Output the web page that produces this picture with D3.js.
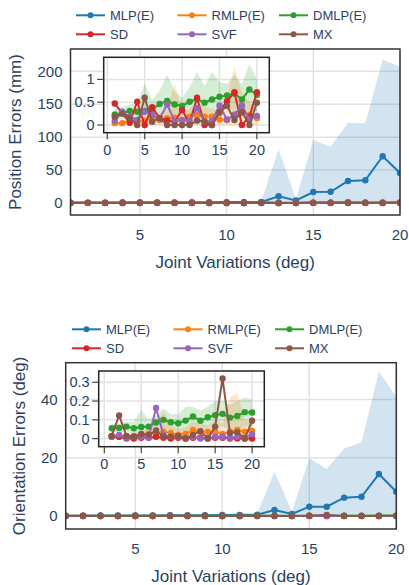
<!DOCTYPE html>
<html><head><meta charset="utf-8">
<script src="https://cdn.jsdelivr.net/npm/d3@7"></script>
<style>body{margin:0;background:#fff}svg{display:block}text{font-family:"Liberation Sans",Arial,sans-serif;fill:#2a3f5f}</style>
</head><body>
<script>
const xs = d3.range(1, 21);
const seriesNames = ["MLP(E)", "RMLP(E)", "DMLP(E)", "SD", "SVF", "MX"];
const colors = ["#1f77b4", "#ff7f0e", "#2ca02c", "#d62728", "#9467bd", "#8c564b"];

// Position errors (mm)
const posMLP   = [0.4,0.5,0.6,0.7,0.8,0.9,1.0,1.1,1.2,1.4,1.5,1.7,10.2,4,16.7,17,33.4,34.5,71,45.6];
const posMLPUp = [0.6,0.7,0.9,1.0,1.2,1.3,1.5,1.6,1.8,2.0,2.2,3,81.6,6,95.7,85.6,122,121,218,207];
const posRMLP  = [0.04,0.04,0.09,0.07,0.09,0.15,0.11,0.15,0.16,0.11,0.18,0.22,0.18,0.18,0.12,0.11,0.23,0.26,0.22,0.15];
const posRMLPUp= [0.08,0.08,0.18,0.15,0.2,0.3,0.25,0.35,0.9,0.3,0.35,0.5,0.4,0.35,0.3,0.6,1.28,0.7,0.5,0.35];
const posRMLPLo= [0,0,0,0,0,0,0,0,0,0,0.01,0,0,0.01,0,0,0,0,0,0];
const posDMLP  = [0.23,0.26,0.31,0.29,0.31,0.34,0.46,0.53,0.45,0.42,0.51,0.57,0.49,0.56,0.62,0.65,0.69,0.56,0.78,0.66];
const posDMLPUp= [0.35,0.40,0.45,0.50,0.90,0.55,0.75,1.10,0.75,0.60,0.83,1.16,0.85,1.16,0.95,0.90,1.10,0.90,1.34,1.00];
const posDMLPLo= [0.11,0.12,0.17,0.08,0.0,0.13,0.17,0.0,0.15,0.24,0.19,0.0,0.13,0.0,0.29,0.40,0.28,0.22,0.22,0.32];
const posSD    = [0.47,0.26,0.05,0.51,0,0.39,0.15,0.1,0.07,0.33,0.04,0.6,0,0,0.3,0.52,0.72,0,0.18,0.72];
const posSVF   = [0.09,0.29,0.18,0.11,0.29,0.22,0.15,0.45,0.09,0.11,0.09,0.37,0.07,0.09,0.43,0.12,0.22,0.43,0.12,0.2];
const posMX    = [0.18,0.25,0.15,0,0.6,0.07,0.15,0,0,0,0,0.1,0.07,0,0.27,0.42,0.11,0.29,0,0.49];

// Orientation errors (deg)
const oriMLP   = [0.1,0.1,0.15,0.15,0.2,0.2,0.25,0.25,0.3,0.35,0.4,0.45,2.06,0.7,3.2,3.2,6.3,6.6,14.4,8.3];
const oriMLPUp = [0.15,0.15,0.2,0.2,0.3,0.3,0.35,0.35,0.4,0.5,0.55,0.8,15.2,1.5,19.8,16.1,23.2,25.3,49.5,40.9];
const oriRMLP  = [0.014,0.01,0.014,0.014,0.018,0.025,0.03,0.037,0.03,0.02,0.025,0.046,0.037,0.037,0.037,0.025,0.037,0.046,0.037,0.041];
const oriRMLPUp= [0.02,0.02,0.025,0.03,0.04,0.06,0.08,0.145,0.07,0.05,0.06,0.09,0.08,0.07,0.1,0.08,0.22,0.24,0.1,0.08];
const oriRMLPLo= [0,0,0,0,0,0,0,0,0,0,0,0,0,0,0,0,0,0,0,0];
const oriDMLP  = [0.055,0.057,0.064,0.055,0.062,0.064,0.086,0.1,0.087,0.082,0.096,0.118,0.095,0.114,0.125,0.132,0.112,0.121,0.141,0.139];
const oriDMLPUp= [0.075,0.08,0.09,0.09,0.155,0.1,0.12,0.16,0.13,0.13,0.17,0.17,0.15,0.17,0.2,0.2,0.18,0.2,0.22,0.21];
const oriDMLPLo= [0.035,0.034,0.038,0.02,0,0.028,0.05,0.04,0.044,0.034,0.022,0.066,0.04,0.058,0.05,0.064,0.044,0.042,0.062,0.068];
const oriSD    = [0.01,0.01,0,0,0.005,0.005,0.01,0.005,0,0.005,0,0.005,0.005,0,0.005,0.005,0,0,0,0];
const oriSVF   = [0.01,0.02,0.005,0.01,0.01,0.005,0.163,0.02,0.01,0.01,0.005,0.01,0,0.005,0.01,0.01,0.005,0.01,0.005,0.025];
const oriMX    = [0.014,0.123,0.014,0.01,0.025,0.02,0.043,0.01,0.01,0.014,0,0.02,0.04,0,0.064,0.32,0.03,0.034,0,0.095];

const mainXTicks = [5, 10, 15, 20];
const posYTicks = [0, 50, 100, 150, 200];
const oriYTicks = [0, 20, 40];
const insetXTicks = [0, 5, 10, 15, 20];
const posInsetYTicks = [0, 0.5, 1];
const oriInsetYTicks = [0, 0.1, 0.2, 0.3];

const W = 409, H = 585;
const svg = d3.select("body").append("svg").attr("width", W).attr("height", H);

function panel(cfg, id) {
  const g = svg.append("g");
  // legend
  seriesNames.forEach((n, i) => {
    const col = i % 3, row = Math.floor(i / 3);
    const lx = cfg.legX + col * 101.5, ly = cfg.legY + row * 19;
    g.append("line").attr("x1", lx).attr("x2", lx + 29).attr("y1", ly).attr("y2", ly)
      .attr("stroke", colors[i]).attr("stroke-width", 2);
    g.append("circle").attr("cx", lx + 14.5).attr("cy", ly).attr("r", 3).attr("fill", colors[i]);
    g.append("text").attr("x", lx + 34).attr("y", ly).attr("dy", "0.35em")
      .attr("font-size", 13).text(n);
  });

  const m = cfg.main;
  const x = d3.scaleLinear().domain([1, 20]).range([m.l, m.r]);
  const y = d3.scaleLinear().domain(m.yd).range([m.b, m.t]);
  // grid
  g.append("g").selectAll("line").data(mainXTicks).join("line")
    .attr("x1", d => x(d)).attr("x2", d => x(d)).attr("y1", m.t).attr("y2", m.b)
    .attr("stroke", "#e2e2e2").attr("stroke-width", 1.5);
  g.append("g").selectAll("line").data(cfg.yTicks).join("line")
    .attr("x1", m.l).attr("x2", m.r).attr("y1", d => y(d)).attr("y2", d => y(d))
    .attr("stroke", "#e2e2e2").attr("stroke-width", 1.5);
  // tick labels
  g.append("g").selectAll("text").data(mainXTicks).join("text")
    .attr("x", d => x(d)).attr("y", m.b + 20).attr("dy", "0.35em").attr("text-anchor", "middle")
    .attr("font-size", 15).text(d => d);
  g.append("g").selectAll("text").data(cfg.yTicks).join("text")
    .attr("x", m.l - 8).attr("y", d => y(d)).attr("dy", "0.35em").attr("text-anchor", "end")
    .attr("font-size", 15).text(d => d);
  // titles
  g.append("text").attr("x", (m.l + m.r) / 2).attr("y", cfg.xTitleY).attr("dy", "0.35em")
    .attr("text-anchor", "middle").attr("font-size", 17).text("Joint Variations (deg)");
  g.append("text").attr("transform", `translate(${cfg.yTitleX},${(m.t + m.b) / 2}) rotate(-90)`)
    .attr("dy", "0.35em").attr("text-anchor", "middle").attr("font-size", 17).text(cfg.yTitle);

  // clip
  svg.append("clipPath").attr("id", "c" + id).append("rect")
    .attr("x", m.l).attr("y", m.t).attr("width", m.r - m.l).attr("height", m.b - m.t);
  const pg = g.append("g").attr("clip-path", `url(#c${id})`);
  const area = d3.area().x((d, i) => x(xs[i])).y0(d => y(d[0])).y1(d => y(d[1]));
  const mlpBand = xs.map((v, i) => [0, cfg.mlpUp[i]]);
  pg.append("path").attr("d", area(mlpBand)).attr("fill", colors[0]).attr("fill-opacity", 0.2);
  const line = d3.line().x((d, i) => x(xs[i])).y(d => y(d));
  cfg.series.forEach((s, k) => {
    pg.append("path").attr("d", line(s)).attr("fill", "none").attr("stroke", colors[k]).attr("stroke-width", 2);
    pg.append("g").selectAll("circle").data(s).join("circle")
      .attr("cx", (d, i) => x(xs[i])).attr("cy", d => y(d)).attr("r", 3.2).attr("fill", colors[k]);
  });
  // frame
  g.append("rect").attr("x", m.l).attr("y", m.t).attr("width", m.r - m.l).attr("height", m.b - m.t)
    .attr("fill", "none").attr("stroke", "#333").attr("stroke-width", 1.5);

  // inset
  const n = cfg.inset;
  const ix = d3.scaleLinear().domain(n.xd).range([n.l, n.r]);
  const iy = d3.scaleLinear().domain(n.yd).range([n.b, n.t]);
  const ig = g.append("g");
  ig.append("rect").attr("x", n.l).attr("y", n.t).attr("width", n.r - n.l).attr("height", n.b - n.t).attr("fill", "#fff");
  ig.append("g").selectAll("line").data(insetXTicks).join("line")
    .attr("x1", d => ix(d)).attr("x2", d => ix(d)).attr("y1", n.t).attr("y2", n.b)
    .attr("stroke", "#e2e2e2").attr("stroke-width", 1.5);
  ig.append("g").selectAll("line").data(cfg.iyTicks).join("line")
    .attr("x1", n.l).attr("x2", n.r).attr("y1", d => iy(d)).attr("y2", d => iy(d))
    .attr("stroke", "#e2e2e2").attr("stroke-width", 1.5);
  svg.append("clipPath").attr("id", "ci" + id).append("rect")
    .attr("x", n.l).attr("y", n.t).attr("width", n.r - n.l).attr("height", n.b - n.t);
  const ipg = ig.append("g").attr("clip-path", `url(#ci${id})`);
  const iarea = d3.area().x((d, i) => ix(xs[i])).y0(d => iy(d[0])).y1(d => iy(d[1]));
  cfg.bands.forEach(b => {
    ipg.append("path").attr("d", iarea(b.lo.map((v, i) => [v, b.up[i]])))
      .attr("fill", colors[b.k]).attr("fill-opacity", 0.2);
  });
  const iline = d3.line().x((d, i) => ix(xs[i])).y(d => iy(d));
  cfg.series.forEach((s, k) => {
    if (k === 0) return;
    ipg.append("path").attr("d", iline(s)).attr("fill", "none").attr("stroke", colors[k]).attr("stroke-width", 2);
    ipg.append("g").selectAll("circle").data(s).join("circle")
      .attr("cx", (d, i) => ix(xs[i])).attr("cy", d => iy(d)).attr("r", 3.2).attr("fill", colors[k]);
  });
  ig.append("rect").attr("x", n.l).attr("y", n.t).attr("width", n.r - n.l).attr("height", n.b - n.t)
    .attr("fill", "none").attr("stroke", "#222").attr("stroke-width", 1.5);
  // inset ticks
  ig.append("g").selectAll("line").data(insetXTicks).join("line")
    .attr("x1", d => ix(d)).attr("x2", d => ix(d)).attr("y1", n.b).attr("y2", n.b + 6.5)
    .attr("stroke", "#444").attr("stroke-width", 1.2);
  ig.append("g").selectAll("line").data(cfg.iyTicks).join("line")
    .attr("x1", n.l - 6.5).attr("x2", n.l).attr("y1", d => iy(d)).attr("y2", d => iy(d))
    .attr("stroke", "#444").attr("stroke-width", 1.2);
  ig.append("g").selectAll("text").data(insetXTicks).join("text")
    .attr("x", d => ix(d)).attr("y", n.b + 17.5).attr("dy", "0.35em").attr("text-anchor", "middle")
    .attr("font-size", 14.5).text(d => d);
  ig.append("g").selectAll("text").data(cfg.iyTicks).join("text")
    .attr("x", n.l - 9).attr("y", d => iy(d)).attr("dy", "0.35em").attr("text-anchor", "end")
    .attr("font-size", 14.5).text(d => d);
}

panel({
  legX: 76, legY: 15.3,
  main: { l: 70.5, r: 400, t: 49, b: 215, yd: [-18.2, 233.9] },
  yTicks: posYTicks, xTitleY: 262, yTitleX: 15.5, yTitle: "Position Errors (mm)",
  mlpUp: posMLPUp,
  series: [posMLP, posRMLP, posDMLP, posSD, posSVF, posMX],
  inset: { l: 103.7, r: 269.3, t: 57.3, b: 132.7, xd: [-0.48, 21.66], yd: [-0.169, 1.485] },
  iyTicks: posInsetYTicks,
  bands: [{ k: 2, up: posDMLPUp, lo: posDMLPLo }, { k: 1, up: posRMLPUp, lo: posRMLPLo }]
}, 1);

panel({
  legX: 72, legY: 329.3,
  main: { l: 65.7, r: 396.3, t: 362.7, b: 529, yd: [-4.46, 52.6] },
  yTicks: oriYTicks, xTitleY: 576.5, yTitleX: 19.5, yTitle: "Orientation Errors (deg)",
  mlpUp: oriMLPUp,
  series: [oriMLP, oriRMLP, oriDMLP, oriSD, oriSVF, oriMX],
  inset: { l: 98.7, r: 264.3, t: 371, b: 446.7, xd: [-0.76, 21.65], yd: [-0.043, 0.36] },
  iyTicks: oriInsetYTicks,
  bands: [{ k: 2, up: oriDMLPUp, lo: oriDMLPLo }, { k: 1, up: oriRMLPUp, lo: oriRMLPLo }]
}, 2);
</script>
</body></html>
